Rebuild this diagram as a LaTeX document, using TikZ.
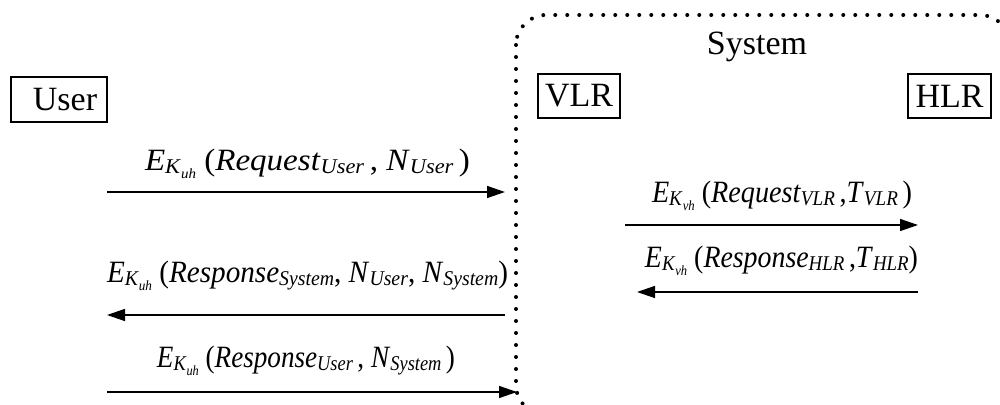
\documentclass[tikz,border=0pt]{standalone}
\usepackage{fontspec}
\setmainfont{Liberation Serif}
\usetikzlibrary{arrows.meta}
\newcommand\Ek[1]{\textit{E}\raisebox{-1.2pt}{\fontsize{10.5}{10}\selectfont\textit{K}\raisebox{-2.5pt}{\fontsize{7}{7}\selectfont\textit{#1}}}}
\newcommand\sbs[1]{\raisebox{-1.2pt}{\fontsize{10.5}{10}\selectfont\textit{#1}}}
\newcommand\fitw[2]{\resizebox{#1}{\height}{#2}}
\begin{document}
\begin{tikzpicture}[x=0.5pt,y=-0.5pt,
  box/.style={draw,line width=0.6pt,inner sep=0pt,font=\fontsize{17}{20}\selectfont},
  lbl/.style={anchor=base,inner sep=0pt,font=\fontsize{15.5}{18}\selectfont},
  msg/.style={line width=0.7pt,-{Triangle[length=9pt,width=6pt]}},
  dotline/.style={line width=2pt,line cap=round,dash pattern=on 0pt off 6pt}]
\useasboundingbox (0,0) rectangle (1000,405);
\begin{scope}
\clip (0,0) rectangle (1000,405);
\draw[dotline,rounded corners=15pt] (516,15) rectangle (1010,415);
\end{scope}
\node[anchor=base,inner sep=0pt,font=\fontsize{17}{20}\selectfont] (sys) at (757,55) {System};
\node[box,minimum width=48pt,minimum height=22.5pt] (user) at (59,99.5) {\hspace{6pt}User};
\node[box,minimum width=41pt,minimum height=22pt] (vlr) at (579,96) {VLR};
\node[box,minimum width=41.5pt,minimum height=22pt] (hlr) at (949.5,96) {HLR};
% arrow ends
\coordinate (a1s) at (107,192); \coordinate (a1e) at (505,192);
\coordinate (a2s) at (505,315); \coordinate (a2e) at (107,315);
\coordinate (a3s) at (107,392); \coordinate (a3e) at (517,392);
\coordinate (a4s) at (625,225); \coordinate (a4e) at (918,225);
\coordinate (a5s) at (918,292); \coordinate (a5e) at (637,292);
\draw[msg] (a1s) -- (a1e);
\draw[msg] (a2s) -- (a2e);
\draw[msg] (a3s) -- (a3e);
\draw[msg] (a4s) -- (a4e);
\draw[msg] (a5s) -- (a5e);
\node[lbl] (l1) at (307.5,171) {\fitw{162.5pt}{\Ek{uh} (\textit{Request}\sbs{User}\,, \textit{N}\sbs{User}\,)}};
\node[lbl] (l2) at (307.5,283) {\fitw{200.5pt}{\Ek{uh} (\textit{Response}\sbs{System}, \textit{N}\sbs{User}, \textit{N}\sbs{System})}};
\node[lbl] (l3) at (306,368) {\fitw{149pt}{\Ek{uh} (\textit{Response}\sbs{User}\,, \textit{N}\sbs{System}\,)}};
\node[lbl] (l4) at (782,203) {\fitw{130pt}{\Ek{vh} (\textit{Request}\sbs{VLR}\,,\textit{T}\sbs{VLR}\,)}};
\node[lbl] (l5) at (781.5,268) {\fitw{136.5pt}{\Ek{vh} (\textit{Response}\sbs{HLR}\,,\textit{T}\sbs{HLR})}};
\end{tikzpicture}
\end{document}
